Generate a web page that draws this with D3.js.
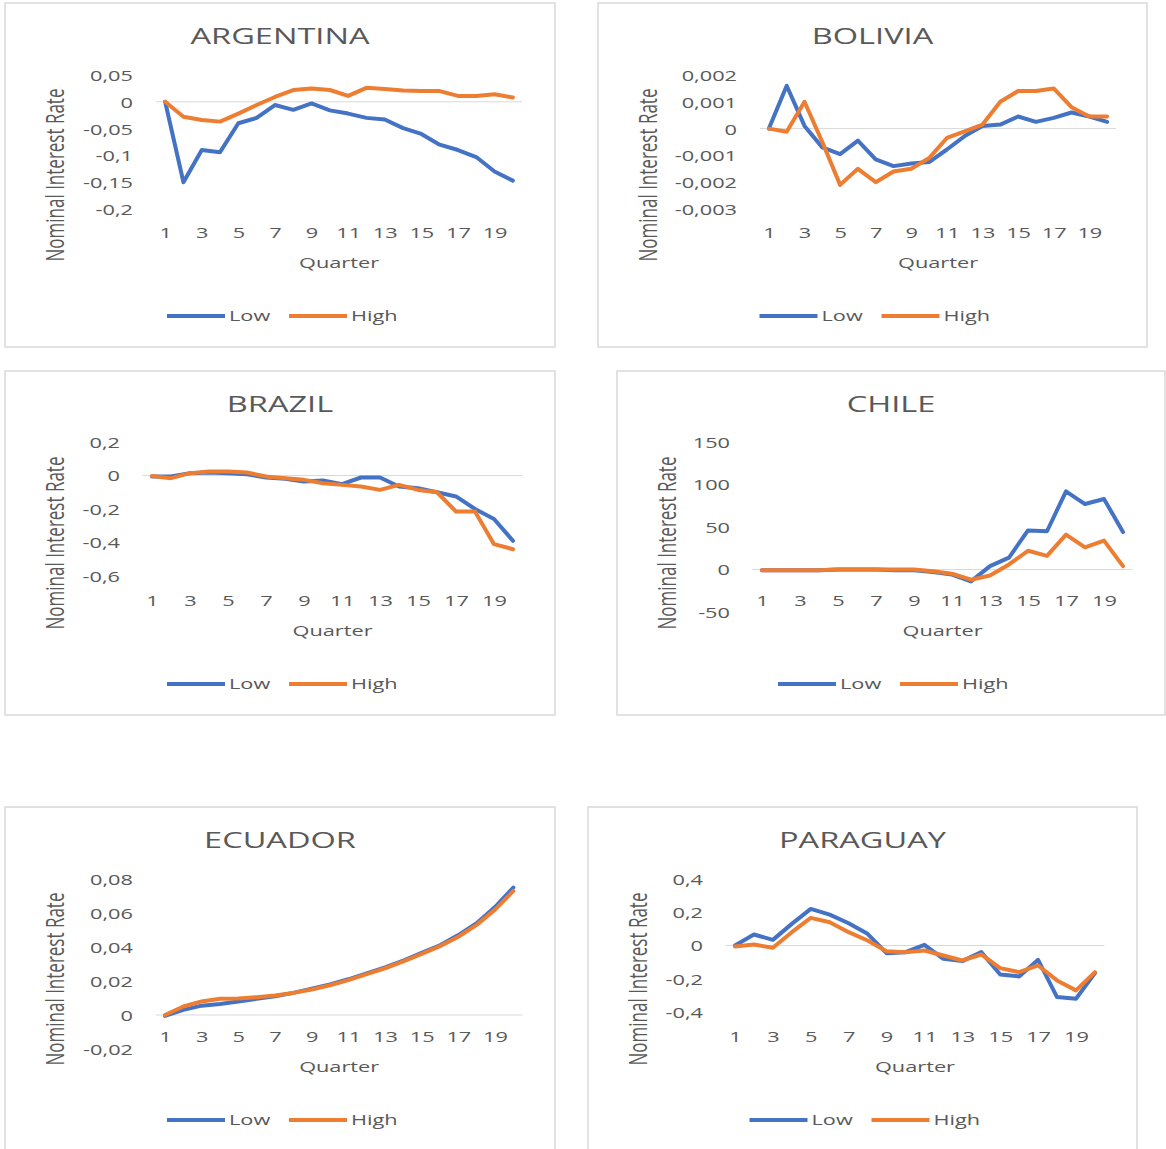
<!DOCTYPE html>
<html>
<head>
<meta charset="utf-8">
<script src="https://cdn.jsdelivr.net/npm/d3@7"></script>
<style>
  body { margin: 0; background: #fff; }
  svg { display: block; }
  text { font-family: "Open Sans", sans-serif; fill: #595959; }
</style>
</head>
<body>
<svg id="chart" width="1166" height="1149"></svg>
<script>
// quarters on the category axis
const quarters = [1, 2, 3, 4, 5, 6, 7, 8, 9, 10, 11, 12, 13, 14, 15, 16, 17, 18, 19, 20];
const quarterTicks = [1, 3, 5, 7, 9, 11, 13, 15, 17, 19];
const seriesNames = ['Low', 'High'];

// Argentina
const argLow  = [0, -0.15, -0.09, -0.094, -0.04, -0.03, -0.006, -0.015, -0.003, -0.016, -0.022, -0.03, -0.033, -0.049, -0.06, -0.08, -0.09, -0.103, -0.13, -0.147];
const argHigh = [0, -0.028, -0.034, -0.037, -0.022, -0.006, 0.009, 0.022, 0.025, 0.022, 0.011, 0.026, 0.024, 0.021, 0.02, 0.02, 0.011, 0.011, 0.014, 0.008];
const argTicks = [0.05, 0, -0.05, -0.1, -0.15, -0.2];

// Bolivia
const bolLow  = [0, 0.0016, 0.0001, -0.0007, -0.00095, -0.00045, -0.00115, -0.0014, -0.0013, -0.00125, -0.00078, -0.00028, 0.0001, 0.00015, 0.00045, 0.00025, 0.0004, 0.0006, 0.00045, 0.00025];
const bolHigh = [0, -0.00012, 0.001, -0.0005, -0.0021, -0.0015, -0.002, -0.0016, -0.0015, -0.0011, -0.00035, -0.0001, 0.00015, 0.001, 0.0014, 0.0014, 0.0015, 0.0008, 0.00045, 0.00045];
const bolTicks = [0.002, 0.001, 0, -0.001, -0.002, -0.003];

// Brazil
const braLow  = [-0.006, -0.006, 0.014, 0.018, 0.014, 0.008, -0.012, -0.02, -0.036, -0.03, -0.052, -0.012, -0.012, -0.066, -0.076, -0.1, -0.125, -0.2, -0.26, -0.39];
const braHigh = [-0.003, -0.016, 0.014, 0.024, 0.024, 0.018, -0.006, -0.016, -0.026, -0.046, -0.056, -0.066, -0.086, -0.056, -0.086, -0.1, -0.215, -0.215, -0.41, -0.44];
const braTicks = [0.2, 0, -0.2, -0.4, -0.6];

// Chile
const chiLow  = [-1, -1, -1, -1, 0, 0, 0, -1, -1, -3, -6, -14, 4, 14, 46, 45, 92, 77, 83, 44];
const chiHigh = [-1, -1, -1, -1, 0, 0, 0, 0, 0, -2, -5, -12, -7, 6, 22, 16, 41, 26, 34, 4];
const chiTicks = [150, 100, 50, 0, -50];

// Ecuador
const ecuLow  = [-0.0005, 0.003, 0.0055, 0.0065, 0.008, 0.0095, 0.011, 0.013, 0.0155, 0.018, 0.021, 0.0245, 0.028, 0.032, 0.0365, 0.041, 0.047, 0.054, 0.0635, 0.075];
const ecuHigh = [0, 0.005, 0.008, 0.0095, 0.0097, 0.0105, 0.0115, 0.013, 0.015, 0.0175, 0.0205, 0.024, 0.0275, 0.0315, 0.036, 0.0405, 0.046, 0.053, 0.062, 0.073];
const ecuTicks = [0.08, 0.06, 0.04, 0.02, 0, -0.02];

// Paraguay
const parLow  = [0, 0.066, 0.034, 0.13, 0.22, 0.186, 0.134, 0.07, -0.046, -0.04, 0.004, -0.08, -0.094, -0.04, -0.174, -0.186, -0.086, -0.31, -0.32, -0.166];
const parHigh = [-0.006, 0.006, -0.014, 0.08, 0.166, 0.14, 0.08, 0.03, -0.034, -0.04, -0.03, -0.06, -0.09, -0.054, -0.136, -0.16, -0.12, -0.21, -0.27, -0.16];
const parTicks = [0.4, 0.2, 0, -0.2, -0.4];

const colors = ['#4472C4', '#ED7D31'];

// panel boxes and plot extents (pixels)
const panels = [
  { name: 'ARGENTINA', low: argLow, high: argHigh, ticks: argTicks, yLabel: 'Nominal Interest Rate',
    box: [5, 3, 550, 344], xr: [156, 522], yr: [75, 209], tickRight: 133 },
  { name: 'BOLIVIA', low: bolLow, high: bolHigh, ticks: bolTicks, yLabel: 'Nominal Interest  Rate',
    box: [598, 3, 549, 344], xr: [760, 1116], yr: [75, 209], tickRight: 737 },
  { name: 'BRAZIL', low: braLow, high: braHigh, ticks: braTicks, yLabel: 'Nominal Interest Rate',
    box: [5, 371, 550, 344], xr: [142.5, 522.5], yr: [442, 576], tickRight: 120 },
  { name: 'CHILE', low: chiLow, high: chiHigh, ticks: chiTicks, yLabel: 'Nominal Interest Rate',
    box: [617, 371, 548, 344], xr: [752.5, 1132.5], yr: [442, 612], tickRight: 730 },
  { name: 'ECUADOR', low: ecuLow, high: ecuHigh, ticks: ecuTicks, yLabel: 'Nominal Interest Rate',
    box: [5, 807, 550, 344], xr: [155.8, 522.5], yr: [879, 1049], tickRight: 133 },
  { name: 'PARAGUAY', low: parLow, high: parHigh, ticks: parTicks, yLabel: 'Nominal Interest Rate',
    box: [588, 807, 549, 344], xr: [725.5, 1104.4], yr: [879, 1012], tickRight: 703 }
];

// excel-style number format with decimal comma
const locale = d3.formatLocale({ decimal: ',', thousands: '.', grouping: [3], currency: ['', ''], minus: '-' });
const fmt = locale.format('~g');

// the reference is stretched sideways, so text is widened too
const SX = 1.45;
const TITLE_SX = 1.55;

const svg = d3.select('#chart');

function wideText(g, x, y, str, size, anchor, sx) {
    return g.append('text')
        .attr('transform', `translate(${x},${y}) scale(${sx},1)`)
        .attr('text-anchor', anchor)
        .attr('font-size', size + 'px')
        .text(str);
}

panels.forEach(p => {
    const [bx, by, bw, bh] = p.box;
    const g = svg.append('g');

    g.append('rect')
        .attr('x', bx).attr('y', by)
        .attr('width', bw).attr('height', bh)
        .attr('fill', '#fff')
        .attr('stroke', '#d9d9d9')
        .attr('stroke-width', 1.5);

    const x = d3.scalePoint().domain(quarters).range(p.xr).padding(0.5);
    const y = d3.scaleLinear()
        .domain([p.ticks[0], p.ticks[p.ticks.length - 1]])
        .range(p.yr);

    // title
    wideText(g, bx + bw / 2, by + 41, p.name, 21, 'middle', TITLE_SX);

    // zero line
    g.append('line')
        .attr('x1', p.xr[0]).attr('x2', p.xr[1])
        .attr('y1', y(0)).attr('y2', y(0))
        .attr('stroke', '#d9d9d9')
        .attr('stroke-width', 1);

    // y axis
    const ya = g.append('g')
        .attr('transform', `translate(${p.tickRight},0)`)
        .call(d3.axisLeft(y).tickValues(p.ticks).tickFormat(fmt).tickSize(0).tickPadding(0));
    ya.select('.domain').remove();
    ya.selectAll('text')
        .attr('x', null)
        .attr('dy', '0.36em')
        .attr('transform', `scale(${SX},1)`)
        .attr('font-family', '"Open Sans", sans-serif')
        .attr('font-size', '15px')
        .attr('fill', '#595959');

    // x axis labels
    const xa = g.append('g')
        .attr('transform', `translate(0,${by + 230})`)
        .call(d3.axisBottom(x).tickValues(quarterTicks).tickSize(0).tickPadding(0));
    xa.select('.domain').remove();
    xa.selectAll('text')
        .attr('y', null)
        .attr('dy', '0.36em')
        .attr('transform', `scale(${SX},1)`)
        .attr('font-family', '"Open Sans", sans-serif')
        .attr('font-size', '15px')
        .attr('fill', '#595959');

    // axis titles
    wideText(g, (p.xr[0] + p.xr[1]) / 2, by + 265, 'Quarter', 15, 'middle', SX);
    g.append('text')
        .attr('transform', `translate(${bx + 59},${by + 172}) scale(${SX},1) rotate(-90)`)
        .attr('text-anchor', 'middle')
        .attr('font-size', '17px')
        .text(p.yLabel);

    // lines
    const line = d3.line()
        .x((d, i) => x(quarters[i]))
        .y(d => y(d));
    [p.low, p.high].forEach((s, i) => {
        g.append('path')
            .datum(s)
            .attr('d', line)
            .attr('fill', 'none')
            .attr('stroke', colors[i])
            .attr('stroke-width', 4)
            .attr('stroke-linejoin', 'round')
            .attr('stroke-linecap', 'round');
    });

    // legend
    const lx = bx + bw / 2 - 113;
    const ly = by + 313;
    seriesNames.forEach((n, i) => {
        const ox = lx + i * 122;
        g.append('line')
            .attr('x1', ox).attr('x2', ox + 58)
            .attr('y1', ly).attr('y2', ly)
            .attr('stroke', colors[i])
            .attr('stroke-width', 4);
        wideText(g, ox + 62, ly + 5, n, 15, 'start', SX);
    });
});
</script>
</body>
</html>
